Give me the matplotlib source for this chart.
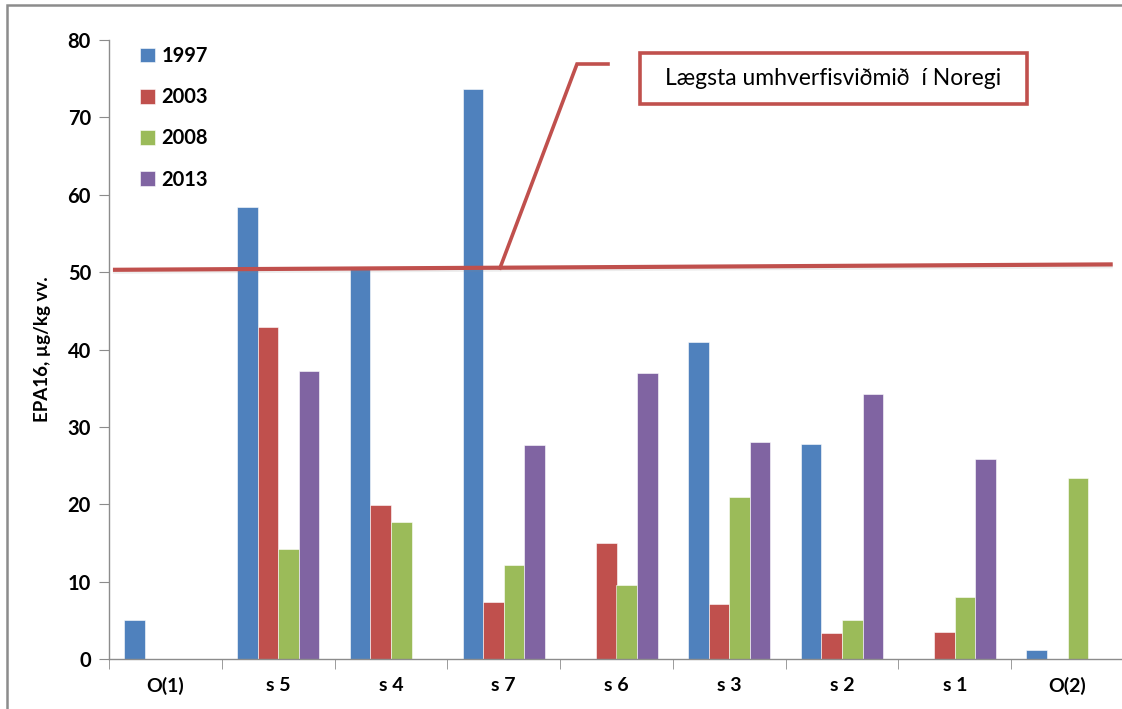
import matplotlib
matplotlib.use("Agg")
import matplotlib.pyplot as plt
from matplotlib.patches import Rectangle
import numpy as np

categories = ["O(1)", "s 5", "s 4", "s 7", "s 6", "s 3", "s 2", "s 1", "O(2)"]
years = ["1997", "2003", "2008", "2013"]
v1997 = [5.0, 58.4, 50.5, 73.7, 0, 41.0, 27.8, 0, 1.1]
v2003 = [0, 42.9, 19.9, 7.4, 15.0, 7.15, 3.4, 3.5, 0]
v2008 = [0, 14.2, 17.7, 12.2, 9.6, 21.0, 5.0, 8.0, 23.35]
v2013 = [0, 37.2, 0, 27.7, 36.9, 28.0, 34.2, 25.9, 0]
series = [v1997, v2003, v2008, v2013]
colors = ["#4F81BD", "#C0504D", "#9BBB59", "#8064A2"]

yticks = [0, 10, 20, 30, 40, 50, 60, 70, 80]
threshold_y = [50.3, 51.0]
threshold_x = [-0.465, 8.40]
note_text = "Lægsta umhverfisviðmið  í Noregi"
ylabel = "EPA16, µg/kg vv."

W, H = 1122, 709
fig = plt.figure(figsize=(W / 100, H / 100), dpi=100)
plt.rcParams['font.family'] = ['Lato', 'DejaVu Sans']

ax_l, ax_r, ax_t, ax_b = 109, 1124, 40, 659
ax = fig.add_axes([ax_l / W, (H - ax_b) / H, (ax_r - ax_l) / W, (ax_b - ax_t) / H])

x = np.arange(len(categories))
bw = 0.1825
for i, (vals, c, yr) in enumerate(zip(series, colors, years)):
    ax.bar(x + (i - 1.5) * bw, vals, width=bw, color=c, label=yr,
           edgecolor="white", linewidth=0.4)

ax.set_xlim(-0.5, len(categories) - 0.5)
ax.set_ylim(0, 80)
ax.set_yticks(yticks)
ax.set_yticklabels([str(t) for t in yticks], fontsize=14.5, fontweight="bold")
ax.set_xticks(x)
ax.set_xticklabels(categories, fontsize=14, fontweight="bold")
ax.set_xticks(np.arange(len(categories) + 1) - 0.5, minor=True)
ax.tick_params(axis="x", which="major", length=0, pad=13)
ax.tick_params(axis="x", which="minor", length=7, color="#8C8C8C", direction="out")
ax.tick_params(axis="y", length=7, color="#8C8C8C", pad=6)
for s in ["top", "right"]:
    ax.spines[s].set_visible(False)
for s in ["left", "bottom"]:
    ax.spines[s].set_color("#8C8C8C")
    ax.spines[s].set_linewidth(1.0)

# threshold line with soft shadow
ax.plot(threshold_x, [threshold_y[0] - 0.2, threshold_y[1] - 0.2], color="#888888",
        lw=3.5, alpha=0.15, solid_capstyle="butt", clip_on=False, zorder=4)
ax.plot(threshold_x, threshold_y, color="#C0504D", lw=3.0, solid_capstyle="butt",
        clip_on=False, zorder=5)

# callout leader
def px2x(px):
    return (px - ax_l) / ((ax_r - ax_l) / len(categories)) - 0.5

def px2y(py):
    return (ax_b - py) / ((ax_b - ax_t) / 80.0)

ax.plot([px2x(500), px2x(577), px2x(608)], [px2y(268), px2y(64), px2y(64)],
        color="#C0504D", lw=2.6, clip_on=False, zorder=5, solid_joinstyle="miter")
bx0, bx1, by0, by1 = px2x(640), px2x(1027), px2y(104), px2y(53)
ax.add_patch(Rectangle((bx0, by0), bx1 - bx0, by1 - by0, facecolor="white",
                       edgecolor="#C0504D", lw=2.6, clip_on=False, zorder=5))
ax.text((bx0 + bx1) / 2, (by0 + by1) / 2, note_text, ha="center", va="center",
        fontsize=16.5, zorder=6)

leg = ax.legend(loc="upper left", bbox_to_anchor=(122 / W, 1 - 28 / H),
                bbox_transform=fig.transFigure, frameon=False,
                handlelength=0.75, handleheight=0.75, handletextpad=0.3,
                labelspacing=1.05, prop={"family": "Lato", "weight": "bold", "size": 14.5})

fig.text(43 / W, 1 - 349 / H, ylabel, rotation=90, ha="center", va="center",
         fontsize=13.5, fontweight="bold")

# outer frame
fig.patches.append(Rectangle((7 / W, -0.1), 1.2, 1 - 5 / H + 0.1, transform=fig.transFigure,
                             fill=False, edgecolor="#8C8C8C", lw=1.8, zorder=0))

fig.savefig("out.png", dpi=100)
